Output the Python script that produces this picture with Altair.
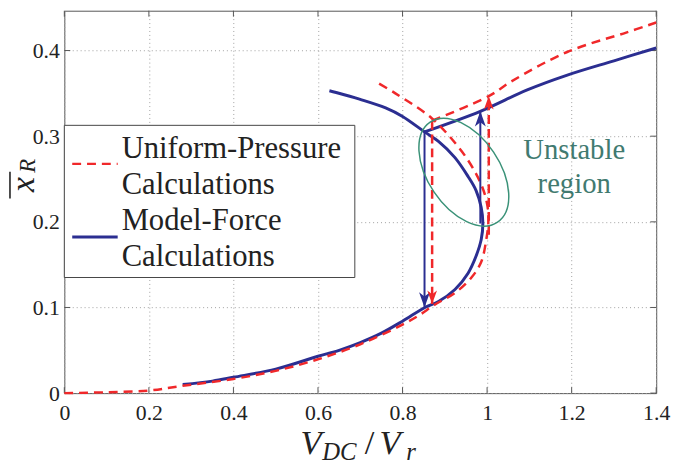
import altair as alt
import pandas as pd

# ---------------- data ----------------
# Model-Force calculations (blue, solid): lower branch folding back (unstable part)
blue_lo_x = [0.28, 0.35, 0.40, 0.50, 0.60, 0.65, 0.70, 0.75, 0.80, 0.853, 0.885, 0.924, 0.955,
             0.974, 0.986, 0.990, 0.986, 0.974, 0.955, 0.924, 0.885, 0.852, 0.80, 0.76, 0.70, 0.643, 0.627]
blue_lo_y = [0.010, 0.014, 0.0185, 0.028, 0.043, 0.050, 0.059, 0.070, 0.084, 0.100, 0.107, 0.121, 0.140,
             0.160, 0.179, 0.198, 0.217, 0.2365, 0.253, 0.275, 0.294, 0.305, 0.323, 0.333, 0.343, 0.351, 0.353]
# Model-Force upper stable branch
blue_up_x = [0.852, 0.984, 1.095, 1.188, 1.30, 1.40]
blue_up_y = [0.305, 0.329, 0.354, 0.371, 0.388, 0.403]

# Uniform-Pressure calculations (red, dashed): lower branch with fold
red_lo_x = [0.0, 0.10, 0.20, 0.28, 0.40, 0.50, 0.60, 0.70, 0.80, 0.838, 0.877, 0.924, 0.963,
            0.986, 0.998, 1.003, 1.001, 0.992, 0.974, 0.939, 0.869, 0.783, 0.737]
red_lo_y = [0.0, 0.001, 0.003, 0.0085, 0.0165, 0.026, 0.0395, 0.057, 0.080, 0.0905, 0.1035, 0.117, 0.135,
            0.153, 0.179, 0.200, 0.218, 0.236, 0.256, 0.283, 0.321, 0.350, 0.3635]
# Uniform-Pressure upper branch
red_up_x = [0.870, 1.005, 1.056, 1.188, 1.329, 1.40]
red_up_y = [0.318, 0.347, 0.3635, 0.398, 0.421, 0.4327]

# jump arrows (x, start y, end y)
blue_arrow_x = [0.852, 0.984]
blue_arrow_y0 = [0.305, 0.198]
blue_arrow_y1 = [0.100, 0.329]
red_arrow_x = [0.870, 1.004]
red_arrow_y0 = [0.318, 0.185]
red_arrow_y1 = [0.104, 0.347]

# unstable-region ellipse centre
ellipse_x = [0.945]
ellipse_y = [0.258]

x_ticks = [0, 0.2, 0.4, 0.6, 0.8, 1.0, 1.2, 1.4]
y_ticks = [0, 0.1, 0.2, 0.3, 0.4]

# ---------------- styles ----------------
BLUE = "#2b2e91"
RED = "#f0282a"
GREEN = "#3a9278"
TEAL = "#417a70"
INK = "#222222"
FONT = "Liberation Serif"
W, H = 599, 387

xs = alt.Scale(domain=[0, 1.4], nice=False, zero=False)
ys = alt.Scale(domain=[0, 0.4465], nice=False, zero=False)

x_axis = alt.Axis(values=x_ticks, format="~g", title=None, grid=True, gridDash=[1, 3],
                  gridColor="#a0a0a0", gridWidth=1, ticks=False, tickSize=0, domain=False,
                  labelFont=FONT, labelFontSize=22, labelColor=INK, labelPadding=10,
                  labelFlush=False)
y_axis = alt.Axis(values=y_ticks, format="~g", title=None, grid=True, gridDash=[1, 3],
                  gridColor="#a0a0a0", gridWidth=1, ticks=False, tickSize=0, domain=False,
                  labelFont=FONT, labelFontSize=22, labelColor=INK, labelPadding=5,
                  labelFlush=False)


def curve(xv, yv, name):
    return pd.DataFrame({"x": xv, "y": yv, "seg": name, "i": list(range(len(xv)))})


blue_df = pd.concat([curve(blue_lo_x, blue_lo_y, "lo"), curve(blue_up_x, blue_up_y, "up")])
red_df = pd.concat([curve(red_lo_x, red_lo_y, "lo"), curve(red_up_x, red_up_y, "up")])
blue_ar = pd.DataFrame({"x": blue_arrow_x, "y0": blue_arrow_y0, "y1": blue_arrow_y1})
red_ar = pd.DataFrame({"x": red_arrow_x, "y0": red_arrow_y0, "y1": red_arrow_y1})
blue_dn = blue_ar[blue_ar.y1 < blue_ar.y0]
blue_upa = blue_ar[blue_ar.y1 > blue_ar.y0]
red_dn = red_ar[red_ar.y1 < red_ar.y0]
red_upa = red_ar[red_ar.y1 > red_ar.y0]
xt = pd.DataFrame({"v": x_ticks})
yt = pd.DataFrame({"v": y_ticks})
one = pd.DataFrame({"a": [0]})


def XE(f):
    return alt.X(f, scale=xs, axis=x_axis)


def YE(f):
    return alt.Y(f, scale=ys, axis=y_axis)


# inward ticks (bottom/top/left/right)
tick_b = alt.Chart(xt).mark_rule(color="#555", strokeWidth=1).encode(
    x=XE("v:Q"), y=alt.value(H), y2=alt.value(H - 6))
tick_t = alt.Chart(xt).mark_rule(color="#555", strokeWidth=1).encode(
    x=XE("v:Q"), y=alt.value(0), y2=alt.value(6))
tick_l = alt.Chart(yt).mark_rule(color="#555", strokeWidth=1).encode(
    y=YE("v:Q"), x=alt.value(0), x2=alt.value(6))
tick_r = alt.Chart(yt).mark_rule(color="#555", strokeWidth=1).encode(
    y=YE("v:Q"), x=alt.value(W), x2=alt.value(W - 6))

blue_line = alt.Chart(blue_df).mark_line(color=BLUE, strokeWidth=3, interpolate="catmull-rom").encode(
    x=XE("x:Q"), y=YE("y:Q"), detail="seg:N", order="i:Q")
red_line = alt.Chart(red_df).mark_line(color=RED, strokeWidth=2.5, strokeDash=[9, 6],
                                       interpolate="catmull-rom").encode(
    x=XE("x:Q"), y=YE("y:Q"), detail="seg:N", order="i:Q")

blue_arr = alt.Chart(blue_ar).mark_rule(color=BLUE, strokeWidth=2).encode(
    x=XE("x:Q"), y=YE("y0:Q"), y2="y1:Q")
red_arr = alt.Chart(red_ar).mark_rule(color=RED, strokeWidth=2.5, strokeDash=[9, 5]).encode(
    x=XE("x:Q"), y=YE("y0:Q"), y2="y1:Q")

DOWN = "M0,0 L-0.65,-1.8 L0,-1.3 L0.65,-1.8 Z"
UP = "M0,0 L-0.65,1.8 L0,1.3 L0.65,1.8 Z"


def head(df, color, shape, size):
    return alt.Chart(df).mark_point(shape=shape, filled=True, color=color, opacity=1,
                                    size=size, strokeWidth=0).encode(
        x=XE("x:Q"), y=YE("y1:Q"))


heads = [head(blue_dn, BLUE, DOWN, 289), head(blue_upa, BLUE, UP, 289),
         head(red_dn, RED, DOWN, 230), head(red_upa, RED, UP, 230)]

ell = alt.Chart(pd.DataFrame({"x": ellipse_x, "y": ellipse_y})).mark_point(
    shape="M-1,0 A1,0.595 0 1 1 1,0 A1,0.595 0 1 1 -1,0 Z", filled=False, color=GREEN,
    strokeWidth=1.5, size=14884, angle=56, opacity=1).encode(x=XE("x:Q"), y=YE("y:Q"))


def txt(t, px, py, size, color=INK, italic=False, align="left", angle=0, baseline="alphabetic"):
    kw = dict(font=FONT, fontSize=size, color=color, align=align, baseline=baseline)
    if italic:
        kw["fontStyle"] = "italic"
    if angle:
        kw["angle"] = angle
    return alt.Chart(one).mark_text(**kw).encode(
        text=alt.value(t), x=alt.value(px), y=alt.value(py))


# legend box
leg_box = alt.Chart(one).mark_rect(fill="white", stroke="#444", strokeWidth=1).encode(
    x=alt.value(0), x2=alt.value(294), y=alt.value(116), y2=alt.value(270))
leg_red = alt.Chart(one).mark_rule(color=RED, strokeWidth=2.5, strokeDash=[9, 6]).encode(
    x=alt.value(8), x2=alt.value(54), y=alt.value(155))
leg_blue = alt.Chart(one).mark_rule(color=BLUE, strokeWidth=3).encode(
    x=alt.value(8), x2=alt.value(54), y=alt.value(229))
leg_txt = [txt("Uniform-Pressure", 58, 149, 31), txt("Calculations", 58, 185, 31),
           txt("Model-Force", 58, 222, 31), txt("Calculations", 58, 258, 31)]

region_txt = [txt("Unstable", 516, 150, 29, TEAL, align="center"),
              txt("region", 516, 184, 29, TEAL, align="center")]

# axis titles built from pieces (subscripts)
xtitle = [txt("V", 239, 449, 35, italic=True), txt("DC", 261, 455, 25, italic=True),
          txt("/", 304, 449, 35), txt("V", 319, 449, 35, italic=True),
          txt("r", 346, 455, 25, italic=True)]
ytitle = [txt("x", -31, 176, 34, italic=True, align="center", angle=270),
          txt("R", -30, 157, 23, italic=True, align="center", angle=270)]
ybar = alt.Chart(one).mark_rule(color=INK, strokeWidth=1.6).encode(
    x=alt.value(-55), y=alt.value(163), y2=alt.value(190))

chart = alt.layer(
    tick_b, tick_t, tick_l, tick_r,
    blue_line, red_line, blue_arr, red_arr, *heads, ell,
    leg_box, leg_red, leg_blue, *leg_txt, *region_txt, *xtitle, *ytitle, ybar,
).properties(
    width=W, height=H,
    autosize=alt.AutoSizeParams(type="none"),
    padding={"left": 57, "top": 0, "right": 17, "bottom": 70},
).configure_view(stroke="#555", strokeWidth=1)

chart.save("out.html", embed_options={"renderer": "svg", "actions": False})
